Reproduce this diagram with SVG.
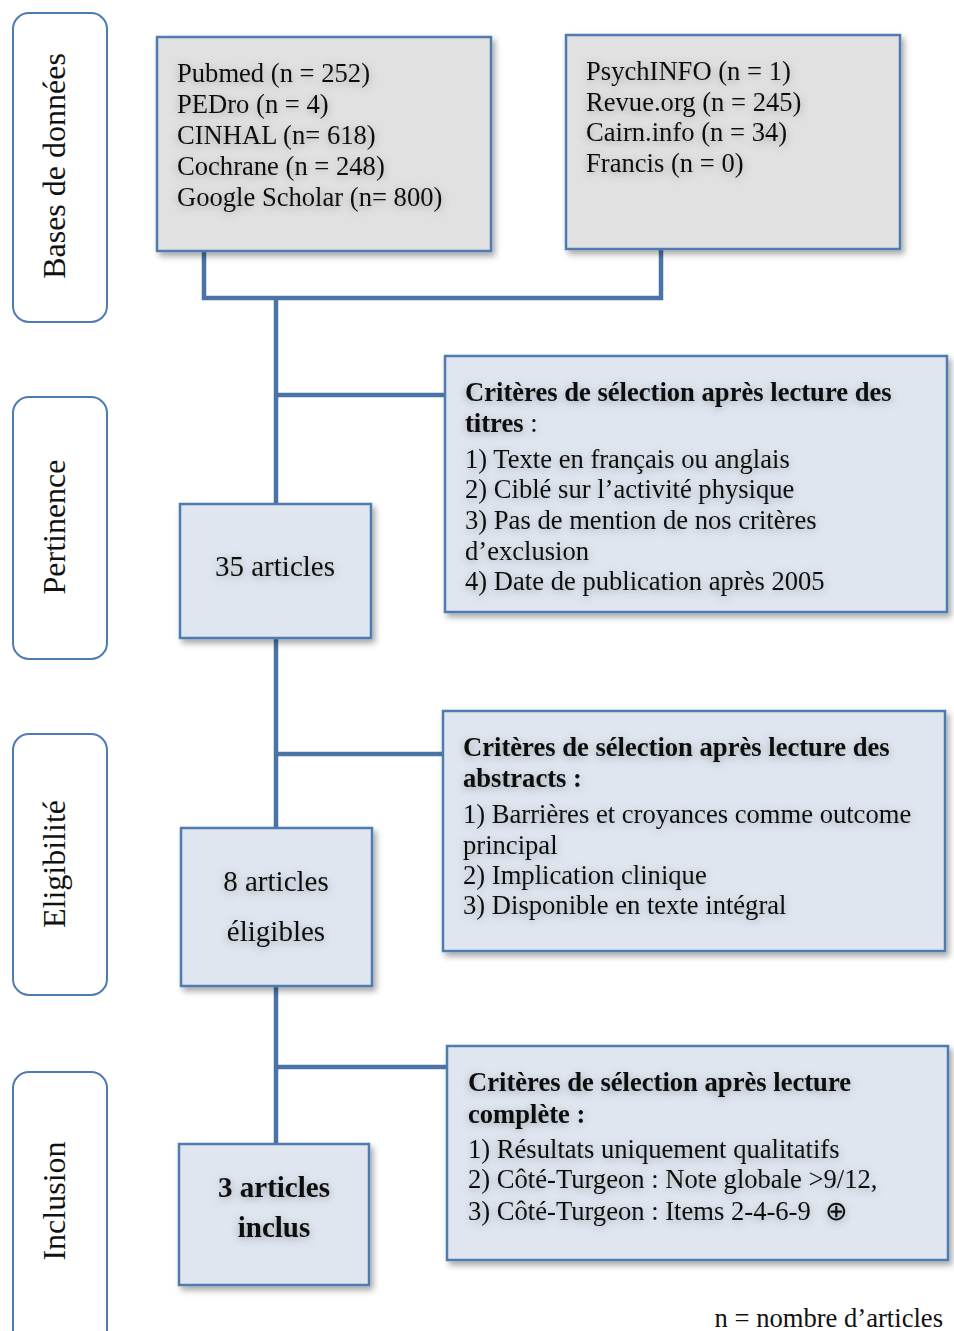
<svg xmlns="http://www.w3.org/2000/svg" width="954" height="1331" viewBox="0 0 954 1331">
<defs>
<style>
.phase{fill:#fff;stroke:#4f7bb0;stroke-width:2}
.box{stroke:#4f7bb0;stroke-width:2.5;filter:url(#bs)}
.gray{fill:#e1e1e1}
.blue{fill:#dfe6f0}
.t{font-family:"Liberation Serif","Times New Roman",serif;font-size:26.6px;fill:#111;filter:url(#ts)}
.big{font-size:29px}
.b{font-weight:bold}
.ph{font-family:"Liberation Serif","Times New Roman",serif;font-size:32px;fill:#111}
.con{fill:none;stroke:#4a74a6;stroke-width:4.5}
</style>
<filter id="bs" x="-10%" y="-10%" width="125%" height="130%">
<feDropShadow dx="3" dy="4" stdDeviation="3" flood-color="#000" flood-opacity="0.35"/>
</filter>
<filter id="ts" x="-10%" y="-50%" width="120%" height="200%">
<feDropShadow dx="0" dy="2" stdDeviation="4" flood-color="#000" flood-opacity="0.3"/>
</filter>
</defs>
<rect width="954" height="1331" fill="#fff"/>

<g id="phase-bases"><rect class="phase" x="13" y="13" width="94" height="309" rx="16"/><text class="ph" transform="translate(65 166) rotate(-90)" text-anchor="middle">Bases de données</text></g>
<g id="phase-pertinence"><rect class="phase" x="13" y="397" width="94" height="262" rx="16"/><text class="ph" transform="translate(65 527) rotate(-90)" text-anchor="middle">Pertinence</text></g>
<g id="phase-eligibilite"><rect class="phase" x="13" y="734" width="94" height="261" rx="16"/><text class="ph" transform="translate(65 864) rotate(-90)" text-anchor="middle">Eligibilité</text></g>
<g id="phase-inclusion"><rect class="phase" x="13" y="1072" width="94" height="280" rx="16"/><text class="ph" transform="translate(65 1201) rotate(-90)" text-anchor="middle">Inclusion</text></g>

<g id="connectors">
<path class="con" d="M204 251 V298 H661 V249"/>
<path class="con" d="M276 298 V504"/>
<path class="con" d="M276 395 H445"/>
<path class="con" d="M276 638 V828"/>
<path class="con" d="M276 754 H443"/>
<path class="con" d="M276 986 V1144"/>
<path class="con" d="M276 1067 H447"/>
</g>

<g id="db1"><rect class="box gray" x="157" y="37" width="334" height="214"/>
<text class="t" x="177"><tspan x="177" y="82">Pubmed (n = 252)</tspan><tspan x="177" y="113">PEDro (n = 4)</tspan><tspan x="177" y="144">CINHAL (n= 618)</tspan><tspan x="177" y="175">Cochrane (n = 248)</tspan><tspan x="177" y="206">Google Scholar (n= 800)</tspan></text></g>

<g id="db2"><rect class="box gray" x="566" y="35" width="334" height="214"/>
<text class="t" x="586"><tspan x="586" y="80">PsychINFO (n = 1)</tspan><tspan x="586" y="111">Revue.org (n = 245)</tspan><tspan x="586" y="141">Cairn.info (n = 34)</tspan><tspan x="586" y="172">Francis (n = 0)</tspan></text></g>

<g id="crit1"><rect class="box blue" x="445" y="356" width="502" height="256"/>
<text class="t"><tspan class="b" x="465" y="401">Critères de sélection après lecture des</tspan><tspan x="465" y="432"><tspan class="b">titres</tspan> :</tspan><tspan x="465" y="468">1) Texte en français ou anglais</tspan><tspan x="465" y="498">2) Ciblé sur l’activité physique</tspan><tspan x="465" y="529">3) Pas de mention de nos critères</tspan><tspan x="465" y="560">d’exclusion</tspan><tspan x="465" y="590">4) Date de publication après 2005</tspan></text></g>

<g id="n35"><rect class="box blue" x="180" y="504" width="191" height="134"/>
<text class="t big" x="275" y="576" text-anchor="middle">35 articles</text></g>

<g id="crit2"><rect class="box blue" x="443" y="711" width="502" height="240"/>
<text class="t"><tspan class="b" x="463" y="756">Critères de sélection après lecture des</tspan><tspan class="b" x="463" y="787">abstracts :</tspan><tspan x="463" y="823">1) Barrières et croyances comme outcome</tspan><tspan x="463" y="854">principal</tspan><tspan x="463" y="884">2) Implication clinique</tspan><tspan x="463" y="914">3) Disponible en texte intégral</tspan></text></g>

<g id="n8"><rect class="box blue" x="181" y="828" width="191" height="158"/>
<text class="t big" text-anchor="middle"><tspan x="276" y="891">8 articles</tspan><tspan x="276" y="941">éligibles</tspan></text></g>

<g id="crit3"><rect class="box blue" x="447" y="1046" width="501" height="214"/>
<text class="t"><tspan class="b" x="468" y="1091">Critères de sélection après lecture</tspan><tspan class="b" x="468" y="1123">complète :</tspan><tspan x="468" y="1158">1) Résultats uniquement qualitatifs</tspan><tspan x="468" y="1188">2) Côté-Turgeon : Note globale &gt;9/12,</tspan><tspan x="468" y="1220">3) Côté-Turgeon : Items 2-4-6-9</tspan><tspan x="825" y="1220">⊕</tspan></text></g>

<g id="n3"><rect class="box blue" x="179" y="1144" width="190" height="141"/>
<text class="t big b" text-anchor="middle"><tspan x="274" y="1197">3 articles</tspan><tspan x="274" y="1237">inclus</tspan></text></g>

<text id="legend" class="t" x="943" y="1327" text-anchor="end" style="filter:none">n = nombre d’articles</text>
</svg>
